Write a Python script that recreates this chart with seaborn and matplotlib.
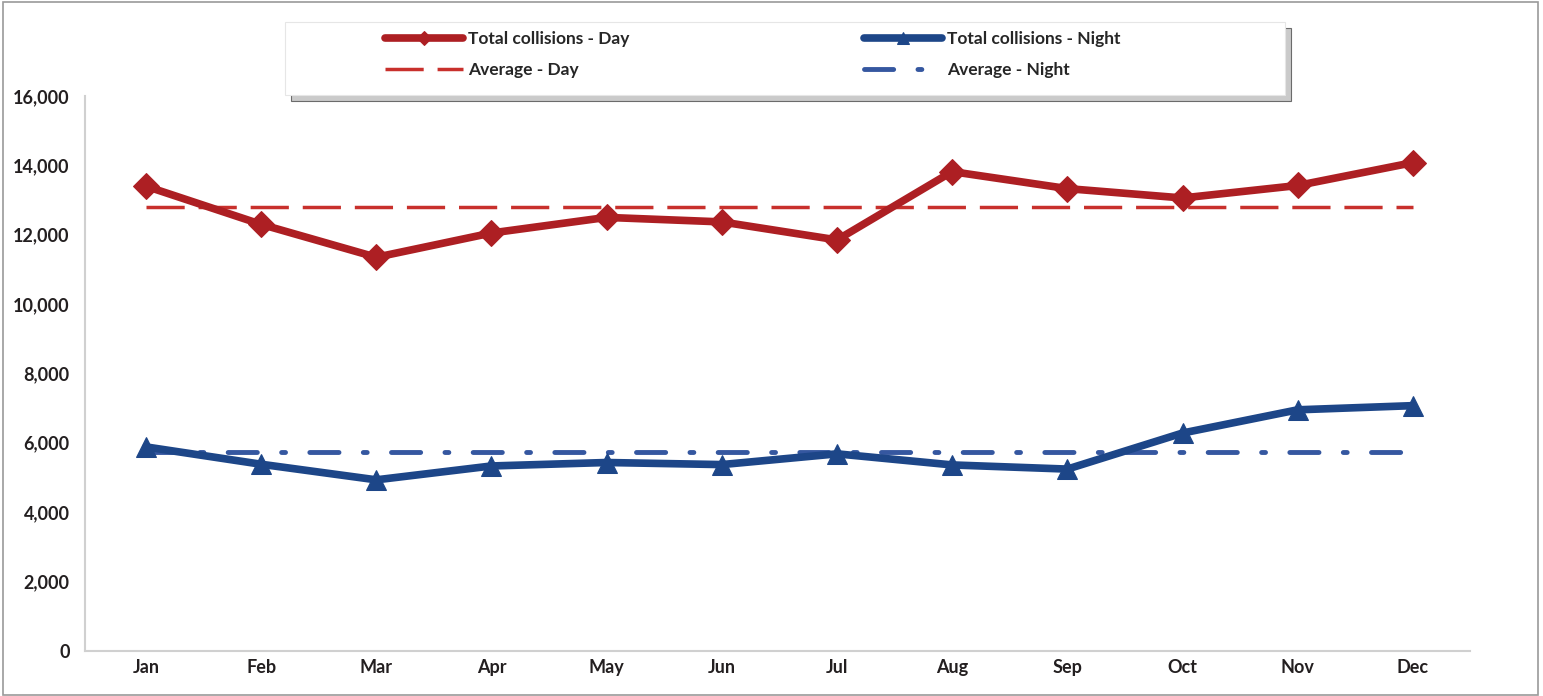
import numpy as np
import pandas as pd
import matplotlib.pyplot as plt
import seaborn as sns
from matplotlib.patches import Rectangle, Shadow
from matplotlib.ticker import FuncFormatter

# Datos (colisiones por mes)
meses = ['Jan', 'Feb', 'Mar', 'Apr', 'May', 'Jun', 'Jul', 'Aug', 'Sep', 'Oct', 'Nov', 'Dec']
total_dia = [13400, 12300, 11350, 12050, 12500, 12370, 11850, 13820, 13330, 13060, 13420, 14080]
total_noche = [5880, 5380, 4930, 5330, 5430, 5370, 5680, 5360, 5240, 6280, 6950, 7070]

prom_dia = np.mean(total_dia)
prom_noche = np.mean(total_noche)

rojo = '#ad1f23'
azul = '#1d4688'

sns.set_theme(style='white')
plt.rcParams['font.family'] = ['Lato', 'DejaVu Sans']

fig = plt.figure(figsize=(15.43, 6.96), dpi=100)
ax = fig.add_axes([0.055, 0.065, 0.898, 0.797])

x = np.arange(len(meses))
df = pd.DataFrame({'Mes': x, 'Dia': total_dia, 'Noche': total_noche})

# Promedios
ax.plot([x[0], x[-1]], [prom_dia, prom_dia], color='#c8302c', lw=2.5,
        dashes=(11, 4), label='Average - Day', zorder=2)
ax.plot([x[0], x[-1]], [prom_noche, prom_noche], color='#3557a0', lw=3.5,
        dashes=(6, 5, 0.8, 5), dash_capstyle='round', label='Average - Night', zorder=2)

# Totales
sns.lineplot(data=df, x='Mes', y='Dia', ax=ax, color=rojo, lw=5.5, marker='D',
             markersize=13, markeredgecolor=rojo, label='Total collisions - Day', zorder=3)
sns.lineplot(data=df, x='Mes', y='Noche', ax=ax, color=azul, lw=5.5, marker='^',
             markersize=15, markeredgecolor=azul, label='Total collisions - Night', zorder=3)

ax.set_xlim(-0.53, 11.5)
ax.set_ylim(0, 16000)
ax.set_xticks(x)
ax.set_xticklabels(meses)
ax.set_yticks(np.arange(0, 16001, 2000))
ax.yaxis.set_major_formatter(FuncFormatter(lambda v, p: f'{int(v):,}'))
ax.set_xlabel('')
ax.set_ylabel('')

for lab in ax.get_xticklabels() + ax.get_yticklabels():
    lab.set_fontweight('bold')
    lab.set_fontsize(13)
    lab.set_color('#231f20')

for s in ['top', 'right']:
    ax.spines[s].set_visible(False)
for s in ['left', 'bottom']:
    ax.spines[s].set_color('#d0d0d0')
    ax.spines[s].set_linewidth(1.5)
ax.tick_params(axis='y', length=5, color='#d0d0d0', width=1.2, pad=6)
ax.tick_params(axis='x', length=0, pad=6)

# Caja de la leyenda con sombra (en coordenadas de figura)
caja = Rectangle((0.1847, 0.8635), 0.648, 0.105, transform=fig.transFigure,
                 facecolor='white', edgecolor='#e6e6e6', lw=0.8, zorder=5)
sombra = Shadow(caja, 0.003, -0.006, facecolor='#bdbdbd', alpha=0.8)
sombra.set_zorder(4)
fig.patches.append(sombra)
fig.patches.append(caja)

# Leyenda: fila 1 totales, fila 2 promedios
handles, labels = ax.get_legend_handles_labels()
ax.get_legend().remove()
orden = ['Total collisions - Day', 'Average - Day', 'Total collisions - Night', 'Average - Night']
h = [handles[labels.index(o)] for o in orden]
leg = fig.legend(h, orden, ncol=2, loc='upper left', bbox_to_anchor=(0.2495, 0.955),
                 frameon=False, columnspacing=13.5, handlelength=4.5, handletextpad=0.3,
                 borderpad=0, borderaxespad=0, labelspacing=0.85, markerscale=0.55,
                 prop={'weight': 'bold', 'size': 12.5})
leg.set_zorder(6)

# Borde de la figura
fig.patches.append(Rectangle((0.002, 0.002), 0.995, 0.995, transform=fig.transFigure,
                             fill=False, edgecolor='#9a9a9a', lw=1.2))

fig.savefig('out.png', dpi=100)
